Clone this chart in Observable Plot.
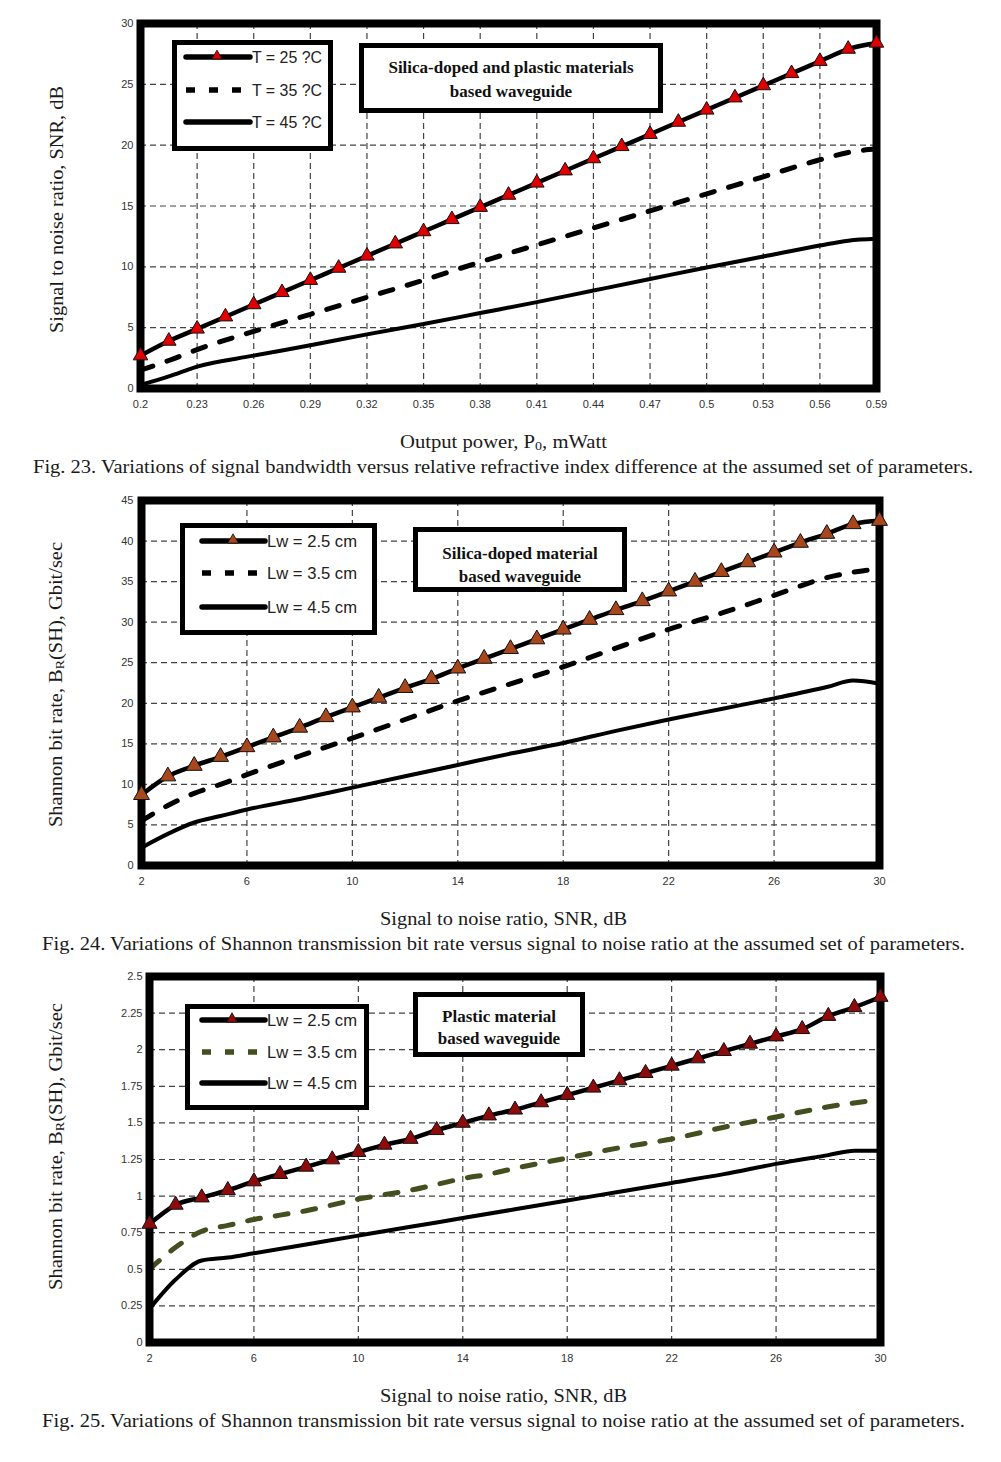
<!DOCTYPE html>
<html>
<head>
<meta charset="utf-8">
<script src="https://cdn.jsdelivr.net/npm/d3@7"></script>
<script src="https://cdn.jsdelivr.net/npm/@observablehq/plot@0.6"></script>
<style>
  html, body { margin: 0; padding: 0; background: #fff; }
  #root { position: relative; width: 1001px; height: 1462px; overflow: hidden; background: #fff; }
  .chart { position: absolute; left: 0; }
  #overlay { position: absolute; left: 0; top: 0; pointer-events: none; }
</style>
</head>
<body>
<div id="root"></div>
<script>
// ---------------- DATA ----------------
// Fig. 23
const c1_x25 = [0.2,0.215,0.23,0.245,0.26,0.275,0.29,0.305,0.32,0.335,0.35,0.365,0.38,0.395,0.41,0.425,0.44,0.455,0.47,0.485,0.5,0.515,0.53,0.545,0.56,0.575,0.59];
const c1_y25 = [2.7,3.9,4.9,5.9,6.9,7.9,8.9,9.9,10.9,11.9,12.9,13.9,14.9,15.9,16.9,17.9,18.9,19.9,20.9,21.9,22.9,23.9,24.9,25.9,26.9,27.9,28.4];
const c1_x35 = [0.2,0.215,0.23,0.26,0.29,0.32,0.35,0.38,0.41,0.44,0.47,0.5,0.53,0.56,0.575,0.59];
const c1_y35 = [1.5,2.3,3.2,4.7,6.1,7.5,8.9,10.4,11.8,13.2,14.6,16.0,17.4,18.8,19.4,19.7];
const c1_x45 = [0.2,0.215,0.23,0.26,0.29,0.32,0.35,0.38,0.41,0.44,0.47,0.5,0.53,0.56,0.575,0.59];
const c1_y45 = [0.3,1.0,1.8,2.7,3.55,4.45,5.3,6.2,7.1,8.05,9.0,9.95,10.85,11.75,12.15,12.3];
const c1_xticks = [0.2,0.23,0.26,0.29,0.32,0.35,0.38,0.41,0.44,0.47,0.5,0.53,0.56,0.59];
const c1_yticks = [0,5,10,15,20,25,30];
const c1_legend = ["T = 25 ?C","T = 35 ?C","T = 45 ?C"];

// Fig. 24
const c2_x25 = [2,3,4,5,6,7,8,9,10,11,12,13,14,15,16,17,18,19,20,21,22,23,24,25,26,27,28,29,30];
const c2_y25 = [8.7,11.0,12.3,13.4,14.6,15.8,17.0,18.3,19.5,20.7,21.9,23.0,24.3,25.5,26.7,27.9,29.1,30.3,31.5,32.6,33.8,35.0,36.2,37.4,38.6,39.8,40.9,42.1,42.5];
const c2_x35 = [2,3,4,5,6,8,10,12,14,16,18,20,22,24,26,28,30];
const c2_y35 = [5.5,7.4,8.9,10.0,11.2,13.5,15.7,18.0,20.3,22.4,24.5,26.8,29.1,31.1,33.3,35.5,36.6];
const c2_x45 = [2,3,4,5,6,8,10,12,14,16,18,20,22,24,26,28,29,30];
const c2_y45 = [2.2,3.9,5.3,6.1,6.9,8.2,9.6,11.0,12.4,13.8,15.1,16.6,18.0,19.3,20.6,22.0,22.8,22.4];
const c2_xticks = [2,6,10,14,18,22,26,30];
const c2_yticks = [0,5,10,15,20,25,30,35,40,45];
const lw_legend = ["Lw = 2.5 cm","Lw = 3.5 cm","Lw = 4.5 cm"];

// Fig. 25
const c3_x25 = [2,3,4,5,6,7,8,9,10,11,12,13,14,15,16,17,18,19,20,21,22,23,24,25,26,27,28,29,30];
const c3_y25 = [0.81,0.94,0.99,1.04,1.10,1.15,1.20,1.25,1.30,1.35,1.39,1.45,1.50,1.55,1.59,1.64,1.69,1.74,1.79,1.84,1.89,1.94,1.99,2.04,2.09,2.14,2.23,2.29,2.36];
const c3_x35 = [2,3,4,5,6,7,8,9,10,11,12,13,14,15,16,18,20,22,24,26,28,30];
const c3_y35 = [0.5,0.65,0.76,0.8,0.84,0.87,0.9,0.94,0.98,1.01,1.04,1.08,1.12,1.15,1.19,1.26,1.33,1.39,1.47,1.54,1.61,1.66];
const c3_x45 = [2,3,4,5,6,8,10,12,14,16,18,20,22,24,26,28,29,30];
const c3_y45 = [0.23,0.43,0.56,0.58,0.61,0.67,0.73,0.79,0.85,0.91,0.97,1.03,1.09,1.15,1.22,1.28,1.31,1.31];
const c3_xticks = [2,6,10,14,18,22,26,30];
const c3_yticks = [0,0.25,0.5,0.75,1,1.25,1.5,1.75,2,2.25,2.5];

// ---------------- HELPERS ----------------
const rows = (xs, ys) => xs.map((x, i) => ({x, y: ys[i]}));
const root = document.getElementById("root");

function makeChart(cfg) {
  const gridStyle = {stroke: "#444", strokeOpacity: 1, strokeWidth: 1.2, strokeDasharray: "6,4"};
  const plot = Plot.plot({
    width: 1001,
    height: 420,
    marginLeft: cfg.ml,
    marginRight: cfg.mr,
    marginTop: cfg.mt,
    marginBottom: cfg.mb,
    style: {background: "transparent", fontFamily: "Arial, 'Liberation Sans', sans-serif", overflow: "visible"},
    x: {domain: cfg.xDomain, label: null},
    y: {domain: cfg.yDomain, label: null},
    marks: [
      Plot.gridX(cfg.xTicks, gridStyle),
      Plot.gridY(cfg.yTicks, gridStyle),
      Plot.line(cfg.s45, {x: "x", y: "y", stroke: "black", strokeWidth: 4, curve: "monotone-x"}),
      Plot.line(cfg.s35, {x: "x", y: "y", stroke: cfg.dashColor, strokeWidth: 5, strokeDasharray: "13,15", curve: "monotone-x"}),
      Plot.line(cfg.s25, {x: "x", y: "y", stroke: "black", strokeWidth: 4.5, curve: "monotone-x"}),
      Plot.frame({stroke: "black", strokeWidth: 8}),
      Plot.dot(cfg.s25, {x: "x", y: "y", symbol: "triangle", r: cfg.r, fill: cfg.triFill, stroke: "#111", strokeWidth: 1}),
      Plot.axisX(cfg.xTicks, {tickSize: 0, tickPadding: 12, tickFormat: d => String(d), fontSize: 11, fill: "#333", label: null}),
      Plot.axisY(cfg.yTicks, {tickSize: 0, tickPadding: cfg.yPad, tickFormat: d => String(d), fontSize: 11, fill: "#333", label: null})
    ]
  });
  plot.classList.add("chart");
  plot.style.top = cfg.top + "px";
  root.appendChild(plot);
}

makeChart({
  top: 0, ml: 140, mr: 125, mt: 23, mb: 32,
  xDomain: [0.2, 0.59], yDomain: [0, 30],
  xTicks: c1_xticks, yTicks: c1_yticks,
  s25: rows(c1_x25, c1_y25), s35: rows(c1_x35, c1_y35), s45: rows(c1_x45, c1_y45),
  triFill: "#e00000", dashColor: "black", r: 5.4, yPad: 7
});
makeChart({
  top: 477, ml: 141, mr: 122, mt: 23, mb: 32,
  xDomain: [2, 30], yDomain: [0, 45],
  xTicks: c2_xticks, yTicks: c2_yticks,
  s25: rows(c2_x25, c2_y25), s35: rows(c2_x35, c2_y35), s45: rows(c2_x45, c2_y45),
  triFill: "#a8461c", dashColor: "black", r: 5.9, yPad: 8
});
makeChart({
  top: 953, ml: 149, mr: 121, mt: 23, mb: 31,
  xDomain: [2, 30], yDomain: [0, 2.5],
  xTicks: c3_xticks, yTicks: c3_yticks,
  s25: rows(c3_x25, c3_y25), s35: rows(c3_x35, c3_y35), s45: rows(c3_x45, c3_y45),
  triFill: "#8e0b0b", dashColor: "#434f1f", r: 5.6, yPad: 7
});

// ---------------- OVERLAY: labels, captions, legends, notes ----------------
const svg = d3.select(root).append("svg")
  .attr("id", "overlay").attr("width", 1001).attr("height", 1462);
const SERIF = "'Liberation Serif', 'Times New Roman', serif";
const SANS = "Arial, 'Liberation Sans', sans-serif";

function serifText(x, y, str, size, len) {
  const t = svg.append("text").attr("x", x).attr("y", y)
    .attr("font-family", SERIF).attr("font-size", size).attr("fill", "#1a1a1a")
    .text(str);
  if (len) t.attr("textLength", len).attr("lengthAdjust", "spacingAndGlyphs");
  return t;
}
function subText(x, y, parts, size, len, rotate) {
  const t = svg.append("text").attr("x", x).attr("y", y)
    .attr("font-family", SERIF).attr("font-size", size).attr("fill", "#1a1a1a")
    .attr("text-anchor", rotate ? "middle" : "start");
  if (rotate) t.attr("transform", `rotate(-90 ${x} ${y})`);
  parts.forEach(p => {
    const ts = t.append("tspan").text(p.t);
    if (p.sub) ts.attr("font-size", size * 0.68).attr("baseline-shift", "-18%");
  });
  if (len) t.attr("textLength", len).attr("lengthAdjust", "spacingAndGlyphs");
  return t;
}

// axis titles
subText(400, 448, [{t: "Output power, P"}, {t: "0", sub: true}, {t: ", mWatt"}], 19, 207);
subText(63, 209.5, [{t: "Signal to noise ratio, SNR, dB"}], 19, 247, true);
serifText(380, 925, "Signal to noise ratio, SNR, dB", 19, 247);
subText(62, 684.5, [{t: "Shannon bit rate, B"}, {t: "R", sub: true}, {t: "(SH), Gbit/sec"}], 19, 285, true);
serifText(380, 1402, "Signal to noise ratio, SNR, dB", 19, 247);
subText(62, 1146.5, [{t: "Shannon bit rate, B"}, {t: "R", sub: true}, {t: "(SH), Gbit/sec"}], 19, 287, true);

// captions
serifText(33, 473, "Fig. 23. Variations of signal bandwidth versus relative refractive index difference at the assumed set of parameters.", 19.5, 940);
serifText(42, 950, "Fig. 24. Variations of Shannon transmission bit rate versus signal to noise ratio at the assumed set of parameters.", 19.5, 923);
serifText(42, 1427, "Fig. 25. Variations of Shannon transmission bit rate versus signal to noise ratio at the assumed set of parameters.", 19.5, 923);

// legends
function legend(o) {
  const bw = 5;
  svg.append("rect").attr("x", o.x0 + bw / 2).attr("y", o.y0 + bw / 2)
    .attr("width", o.x1 - o.x0 - bw).attr("height", o.y1 - o.y0 - bw)
    .attr("fill", "white").attr("stroke", "black").attr("stroke-width", bw);
  o.ys.forEach((y, i) => {
    const l = svg.append("line").attr("x1", o.lx0).attr("x2", o.lx1).attr("y1", y).attr("y2", y)
      .attr("stroke", i === 1 ? o.dashColor : "black").attr("stroke-width", 5.5);
    if (i === 1) l.attr("stroke-dasharray", "9,14");
    else l.attr("stroke-linecap", "round");
    if (i === 0) {
      svg.append("path").attr("d", d3.symbol(d3.symbolTriangle, o.msize)())
        .attr("transform", `translate(${o.mx},${y - 1})`)
        .attr("fill", o.triFill).attr("stroke", "#111").attr("stroke-width", 0.8);
    }
    svg.append("text").attr("x", o.tx).attr("y", y).attr("dy", "0.36em")
      .attr("font-family", SANS).attr("font-size", o.fs).attr("fill", "#222")
      .attr("textLength", o.tlen).attr("lengthAdjust", "spacingAndGlyphs")
      .text(o.labels[i]);
  });
}
legend({x0: 172, x1: 333, y0: 40, y1: 151, ys: [57, 90, 122], lx0: 186, lx1: 250, tx: 252, tlen: 70,
        mx: 217, msize: 45, fs: 16, labels: c1_legend, triFill: "#e00000", dashColor: "black"});
legend({x0: 180, x1: 377, y0: 523, y1: 635, ys: [541, 573, 607], lx0: 202, lx1: 265, tx: 267, tlen: 90,
        mx: 233, msize: 50, fs: 16.5, labels: lw_legend, triFill: "#a8461c", dashColor: "black"});
legend({x0: 185, x1: 369, y0: 1004, y1: 1110, ys: [1020, 1052, 1083], lx0: 202, lx1: 265, tx: 267, tlen: 90,
        mx: 232, msize: 50, fs: 16.5, labels: lw_legend, triFill: "#8e0b0b", dashColor: "#434f1f"});

// annotation boxes
function note(o) {
  const bw = 5;
  svg.append("rect").attr("x", o.x0 + bw / 2).attr("y", o.y0 + bw / 2)
    .attr("width", o.x1 - o.x0 - bw).attr("height", o.y1 - o.y0 - bw)
    .attr("fill", "white").attr("stroke", "black").attr("stroke-width", bw);
  o.lines.forEach((s, i) => {
    svg.append("text").attr("x", (o.x0 + o.x1) / 2).attr("y", o.bases[i])
      .attr("text-anchor", "middle").attr("font-family", SERIF).attr("font-weight", "bold")
      .attr("font-size", 17).attr("fill", "#111").text(s);
  });
}
note({x0: 359, x1: 663, y0: 43, y1: 113, bases: [73, 97], lines: ["Silica-doped and plastic materials", "based waveguide"]});
note({x0: 413, x1: 627, y0: 527, y1: 592, bases: [559, 582], lines: ["Silica-doped material", "based waveguide"]});
note({x0: 413, x1: 585, y0: 992, y1: 1057, bases: [1022, 1044], lines: ["Plastic material", "based waveguide"]});
</script>
</body>
</html>
